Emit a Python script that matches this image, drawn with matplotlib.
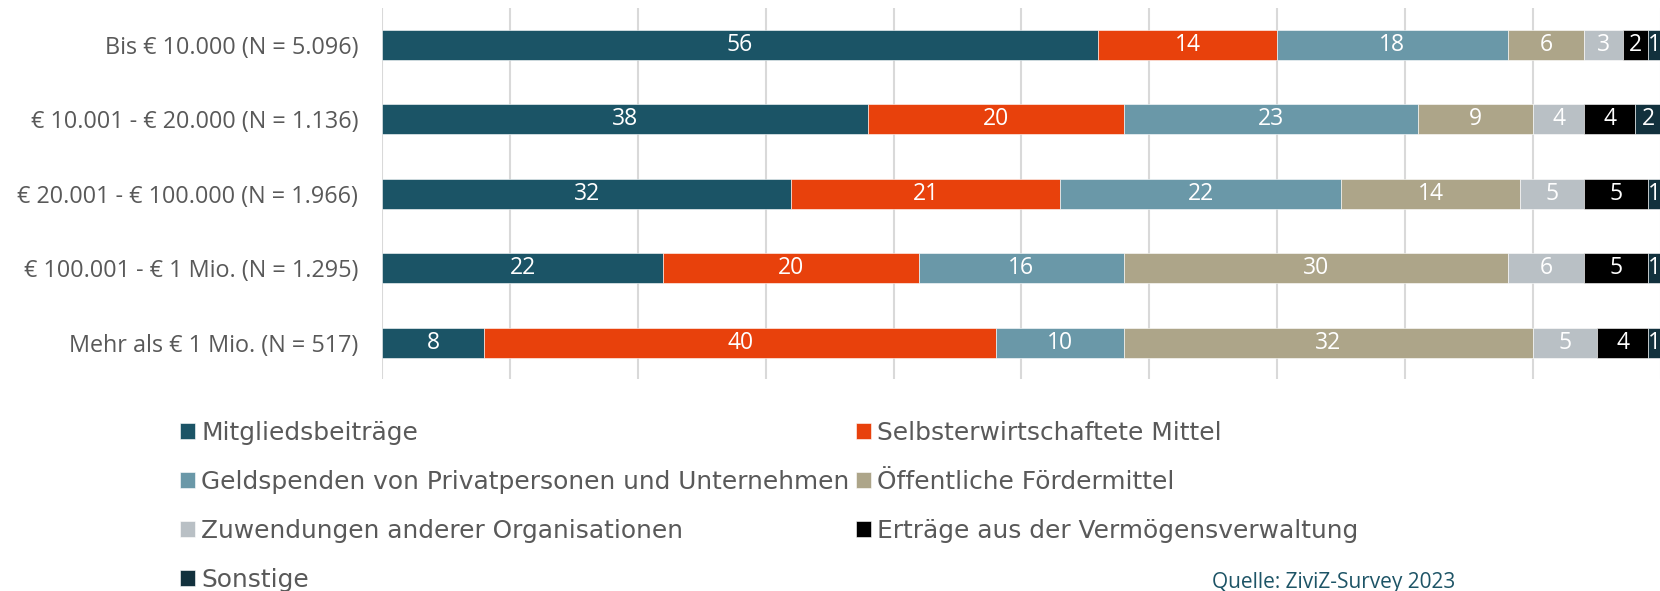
import numpy as np
import matplotlib.pyplot as plt

categories = ['Bis € 10.000 (N = 5.096)',
              '€ 10.001 - € 20.000 (N = 1.136)',
              '€ 20.001 - € 100.000 (N = 1.966)',
              '€ 100.001 - € 1 Mio. (N = 1.295)',
              'Mehr als € 1 Mio. (N = 517)']

series_names = ['Mitgliedsbeiträge',
                'Selbsterwirtschaftete Mittel',
                'Geldspenden von Privatpersonen und Unternehmen',
                'Öffentliche Fördermittel',
                'Zuwendungen anderer Organisationen',
                'Erträge aus der Vermögensverwaltung',
                'Sonstige']

mitgliedsbeitraege = [56, 38, 32, 22, 8]
selbsterwirtschaftet = [14, 20, 21, 20, 40]
geldspenden = [18, 23, 22, 16, 10]
foerdermittel = [6, 9, 14, 30, 32]
zuwendungen = [3, 4, 5, 6, 5]
vermoegen = [2, 4, 5, 5, 4]
sonstige = [1, 2, 1, 1, 1]

source_text = 'Quelle: ZiviZ-Survey 2023'

colors = ['#1b5466', '#e8410c', '#6a98a8', '#ada589', '#b9c0c5', '#000000', '#12313d']
text_grey = '#595959'


def plot_stacked_bars():
    series = [mitgliedsbeitraege, selbsterwirtschaftet, geldspenden, foerdermittel,
              zuwendungen, vermoegen, sonstige]

    fig = plt.figure(figsize=(16.6, 5.91), dpi=100)
    ax = fig.add_axes([0.2301, 0.3582, 0.7705, 0.6278])

    y_pos = np.arange(len(categories))
    left = np.zeros(len(categories))
    containers = []
    for values, name, color in zip(series, series_names, colors):
        bars = ax.barh(y_pos, values, 0.4, left=left, color=color, label=name,
                       edgecolor='white', linewidth=0.4, zorder=3)
        ax.bar_label(bars, label_type='center', color='white', fontsize=16.5,
                     family='Open Sans')
        containers.append(bars)
        left = left + np.array(values)

    ax.set_xlim(0, 100)
    ax.set_ylim(4.49, -0.49)
    ax.set_xticks(np.arange(0, 101, 10))
    ax.xaxis.grid(True, color='#d9d9d9', linewidth=1.5, zorder=0)
    ax.tick_params(axis='x', length=0, labelbottom=False)
    ax.tick_params(axis='y', length=0, pad=17, labelsize=16.8, labelcolor=text_grey)
    ax.set_yticks(y_pos)
    ax.set_yticklabels(categories, family='Open Sans')
    for side in ['top', 'right', 'bottom', 'left']:
        ax.spines[side].set_visible(False)

    # legend is filled column-wise, so reorder to get the row order of the original
    order = [0, 2, 4, 6, 1, 3, 5]
    handles = [containers[i] for i in order]
    labels = [series_names[i] for i in order]
    fig.legend(handles, labels, ncol=2, loc='upper left',
               bbox_to_anchor=(180 / 1660, 1 - 421 / 591), frameon=False,
               prop={'family': 'DejaVu Sans', 'size': 17.9}, labelcolor=text_grey,
               handlelength=0.6, handleheight=0.6, handletextpad=0.25,
               columnspacing=0.25, labelspacing=1.0, borderpad=0, borderaxespad=0)

    fig.text(1212 / 1660, 1 - 587.7 / 591, source_text, color='#1d5466',
             fontsize=15, family='Open Sans', va='baseline')

    fig.savefig('out.png', dpi=100)


plot_stacked_bars()
